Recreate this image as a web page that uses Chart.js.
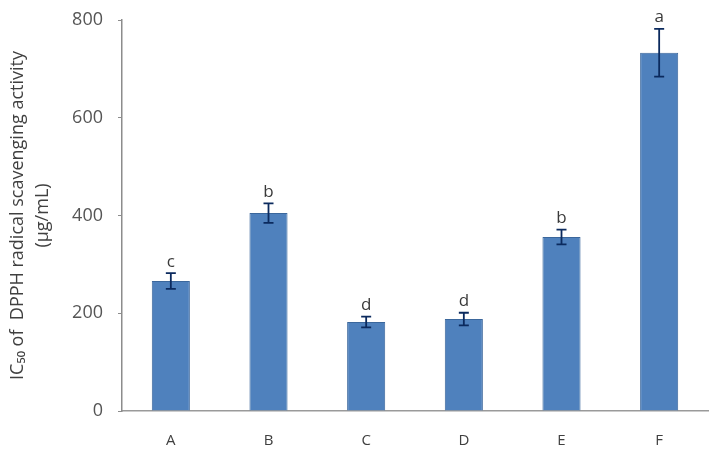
<!DOCTYPE html>
<html>
<head>
<meta charset="utf-8">
<script src="https://cdn.jsdelivr.net/npm/chart.js@4"></script>
<style>
  html, body { margin: 0; padding: 0; background: #fff; }
  #wrap { width: 709px; height: 455px; }
</style>
</head>
<body>
<div id="wrap"><canvas id="ic50Chart"></canvas></div>
<script>
// IC50 values
const samples = ['A', 'B', 'C', 'D', 'E', 'F'];
const ic50 = [266, 405, 182, 188, 356, 733];
const errors = [16, 20, 11, 13, 15, 49];
const groups = ['c', 'b', 'd', 'd', 'b', 'a'];
const yTicks = [0, 200, 400, 600, 800];

// error bars and significance letters
const errorBarPlugin = {
    id: 'errorBars',
    afterDatasetsDraw(chart) {
        const ctx = chart.ctx;
        const meta = chart.getDatasetMeta(0);
        const y = chart.scales.y;
        ctx.save();
        meta.data.forEach((bar, i) => {
            const top = y.getPixelForValue(ic50[i] + errors[i]);
            const bottom = y.getPixelForValue(ic50[i] - errors[i]);
            ctx.strokeStyle = '#0b2a5e';
            ctx.lineWidth = 1.8;
            ctx.beginPath();
            ctx.moveTo(bar.x, top);
            ctx.lineTo(bar.x, bottom);
            ctx.moveTo(bar.x - 5, top);
            ctx.lineTo(bar.x + 5, top);
            ctx.moveTo(bar.x - 5, bottom);
            ctx.lineTo(bar.x + 5, bottom);
            ctx.stroke();
            ctx.fillStyle = '#3a3a3a';
            ctx.font = '17px "Open Sans"';
            ctx.textAlign = 'center';
            ctx.textBaseline = 'bottom';
            ctx.fillText(groups[i], bar.x, top - 3);
        });
        ctx.restore();
    }
};

new Chart(document.getElementById('ic50Chart'), {
    type: 'bar',
    data: {
        labels: samples,
        datasets: [{
            data: ic50,
            backgroundColor: '#4f81bd',
            borderColor: '#3b679c',
            borderWidth: 1,
            categoryPercentage: 1,
            barPercentage: 0.39
        }]
    },
    options: {
        responsive: true,
        maintainAspectRatio: false,
        animation: false,
        layout: { padding: { top: 20, right: 1, bottom: 0, left: 0 } },
        plugins: {
            legend: { display: false },
            tooltip: { enabled: false }
        },
        scales: {
            x: {
                afterFit: s => { s.height = 44; },
                grid: { display: false, drawTicks: false },
                border: { color: '#9a9a9a', width: 1.5 },
                ticks: { color: '#404040', font: { family: 'Open Sans', size: 15 }, padding: 21 }
            },
            y: {
                min: 0,
                max: 800,
                afterFit: s => {
                    s.width = 122;
                    s.paddingTop = 10;
                    s.paddingBottom = 10;
                },
                afterBuildTicks: axis => { axis.ticks = yTicks.map(v => ({ value: v })); },
                grid: { drawOnChartArea: false, tickLength: 4, color: '#8c8c8c' },
                border: { color: '#8c8c8c', width: 1.5 },
                ticks: { color: '#555', font: { family: 'Open Sans', size: 18 }, padding: 15 },
                title: {
                    display: true,
                    text: ['IC\u2085\u2080 of  DPPH radical scavenging activity', '(\u03bcg/mL)'],
                    color: '#404040',
                    font: { family: 'Open Sans', size: 18, lineHeight: 1.35 },
                    padding: { top: 6, bottom: 0 }
                }
            }
        }
    },
    plugins: [errorBarPlugin]
});
</script>
</body>
</html>
